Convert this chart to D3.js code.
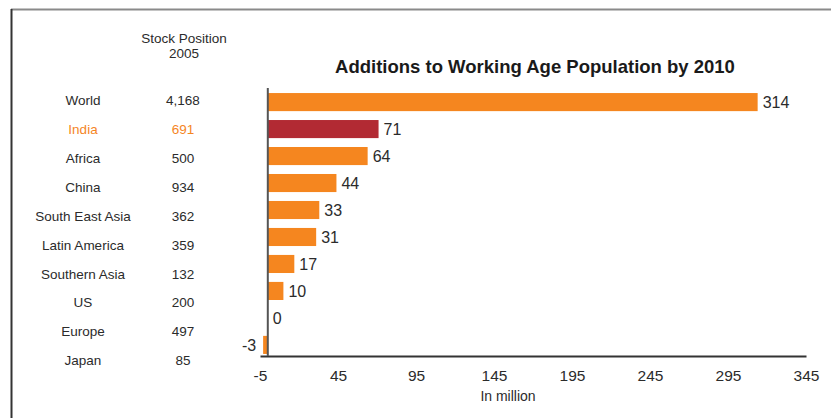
<!DOCTYPE html>
<html>
<head>
<meta charset="utf-8">
<script src="https://cdn.jsdelivr.net/npm/d3@7"></script>
<style>
  html, body { margin: 0; padding: 0; background: #fff; }
  svg { display: block; font-family: "Liberation Sans", Arial, sans-serif; }
</style>
</head>
<body>
<svg id="chart" width="831" height="418"></svg>
<script>
// Regions, their 2005 stock (million) and additions by 2010 (million)
const regions = ["World", "India", "Africa", "China", "South East Asia", "Latin America", "Southern Asia", "US", "Europe", "Japan"];
const stock2005 = ["4,168", "691", "500", "934", "362", "359", "132", "200", "497", "85"];
const additions = [314, 71, 64, 44, 33, 31, 17, 10, 0, -3];
const highlight = "India";
const xTicks = [-5, 45, 95, 145, 195, 245, 295, 345];

const svg = d3.select("#chart");
const orange = "#f5861f", red = "#b22a33", text = "#2b2b2b";

// Page frame
svg.append("line").attr("x1", 11).attr("x2", 831).attr("y1", 9.5).attr("y2", 9.5)
  .attr("stroke", "#8a8a8a").attr("stroke-width", 2);
svg.append("line").attr("x1", 11.5).attr("x2", 11.5).attr("y1", 9).attr("y2", 418)
  .attr("stroke", "#333").attr("stroke-width", 2);

// Scales
const x = d3.scaleLinear().domain([-5, 345]).range([260, 806]);
const yBar = d3.scaleBand().domain(regions).range([89, 358]).paddingInner(0.33).paddingOuter(0.15);
const yRow = d3.scaleBand().domain(regions).range([86, 375]);

// Title
svg.append("text").attr("x", 535).attr("y", 73).attr("text-anchor", "middle")
  .attr("font-size", 18.5).attr("font-weight", "bold").attr("fill", "#1a1a1a")
  .text("Additions to Working Age Population by 2010");

// Table header
svg.append("text").attr("x", 184).attr("y", 43).attr("text-anchor", "middle")
  .attr("font-size", 13.5).attr("fill", text).text("Stock Position");
svg.append("text").attr("x", 184).attr("y", 58).attr("text-anchor", "middle")
  .attr("font-size", 13.5).attr("fill", text).text("2005");

// Table rows
const rows = svg.append("g").selectAll("g").data(regions).join("g")
  .attr("transform", d => `translate(0,${yRow(d) + yRow.bandwidth() / 2})`);
rows.append("text").attr("x", 83).attr("dy", "0.35em").attr("text-anchor", "middle")
  .attr("font-size", 13.5).attr("fill", d => d === highlight ? orange : text).text(d => d);
rows.append("text").attr("x", 183).attr("dy", "0.35em").attr("text-anchor", "middle")
  .attr("font-size", 13.5).attr("fill", (d) => d === highlight ? orange : text)
  .text((d, i) => stock2005[i]);

// Bars
const data = regions.map((r, i) => ({ r, v: additions[i] }));
svg.append("g").selectAll("rect").data(data).join("rect")
  .attr("x", d => x(Math.min(0, d.v)))
  .attr("width", d => Math.abs(x(d.v) - x(0)))
  .attr("y", d => yBar(d.r))
  .attr("height", yBar.bandwidth())
  .attr("fill", d => d.r === highlight ? red : orange);

// Value labels
svg.append("g").selectAll("text").data(data).join("text")
  .attr("x", d => d.v < 0 ? x(d.v) - 7 : x(d.v) + 5)
  .attr("y", d => yBar(d.r) + yBar.bandwidth() / 2)
  .attr("dy", "0.36em")
  .attr("text-anchor", d => d.v < 0 ? "end" : "start")
  .attr("font-size", 16).attr("fill", text)
  .text(d => String(d.v));

// X axis
const xAxis = svg.append("g").attr("transform", "translate(0,356)")
  .call(d3.axisBottom(x).tickValues(xTicks).tickSize(0).tickPadding(14).tickFormat(d => String(d)));
xAxis.select(".domain").attr("stroke", "#333").attr("stroke-width", 2);
xAxis.selectAll("text").attr("font-size", 15.5).attr("fill", text)
  .attr("font-family", "'Liberation Sans', Arial, sans-serif");

// Zero line
svg.append("line").attr("x1", x(0)).attr("x2", x(0)).attr("y1", 88).attr("y2", 356)
  .attr("stroke", "#555").attr("stroke-width", 2);

// Axis caption
svg.append("text").attr("x", 508).attr("y", 401).attr("text-anchor", "middle")
  .attr("font-size", 14).attr("fill", text).text("In million");
</script>
</body>
</html>
